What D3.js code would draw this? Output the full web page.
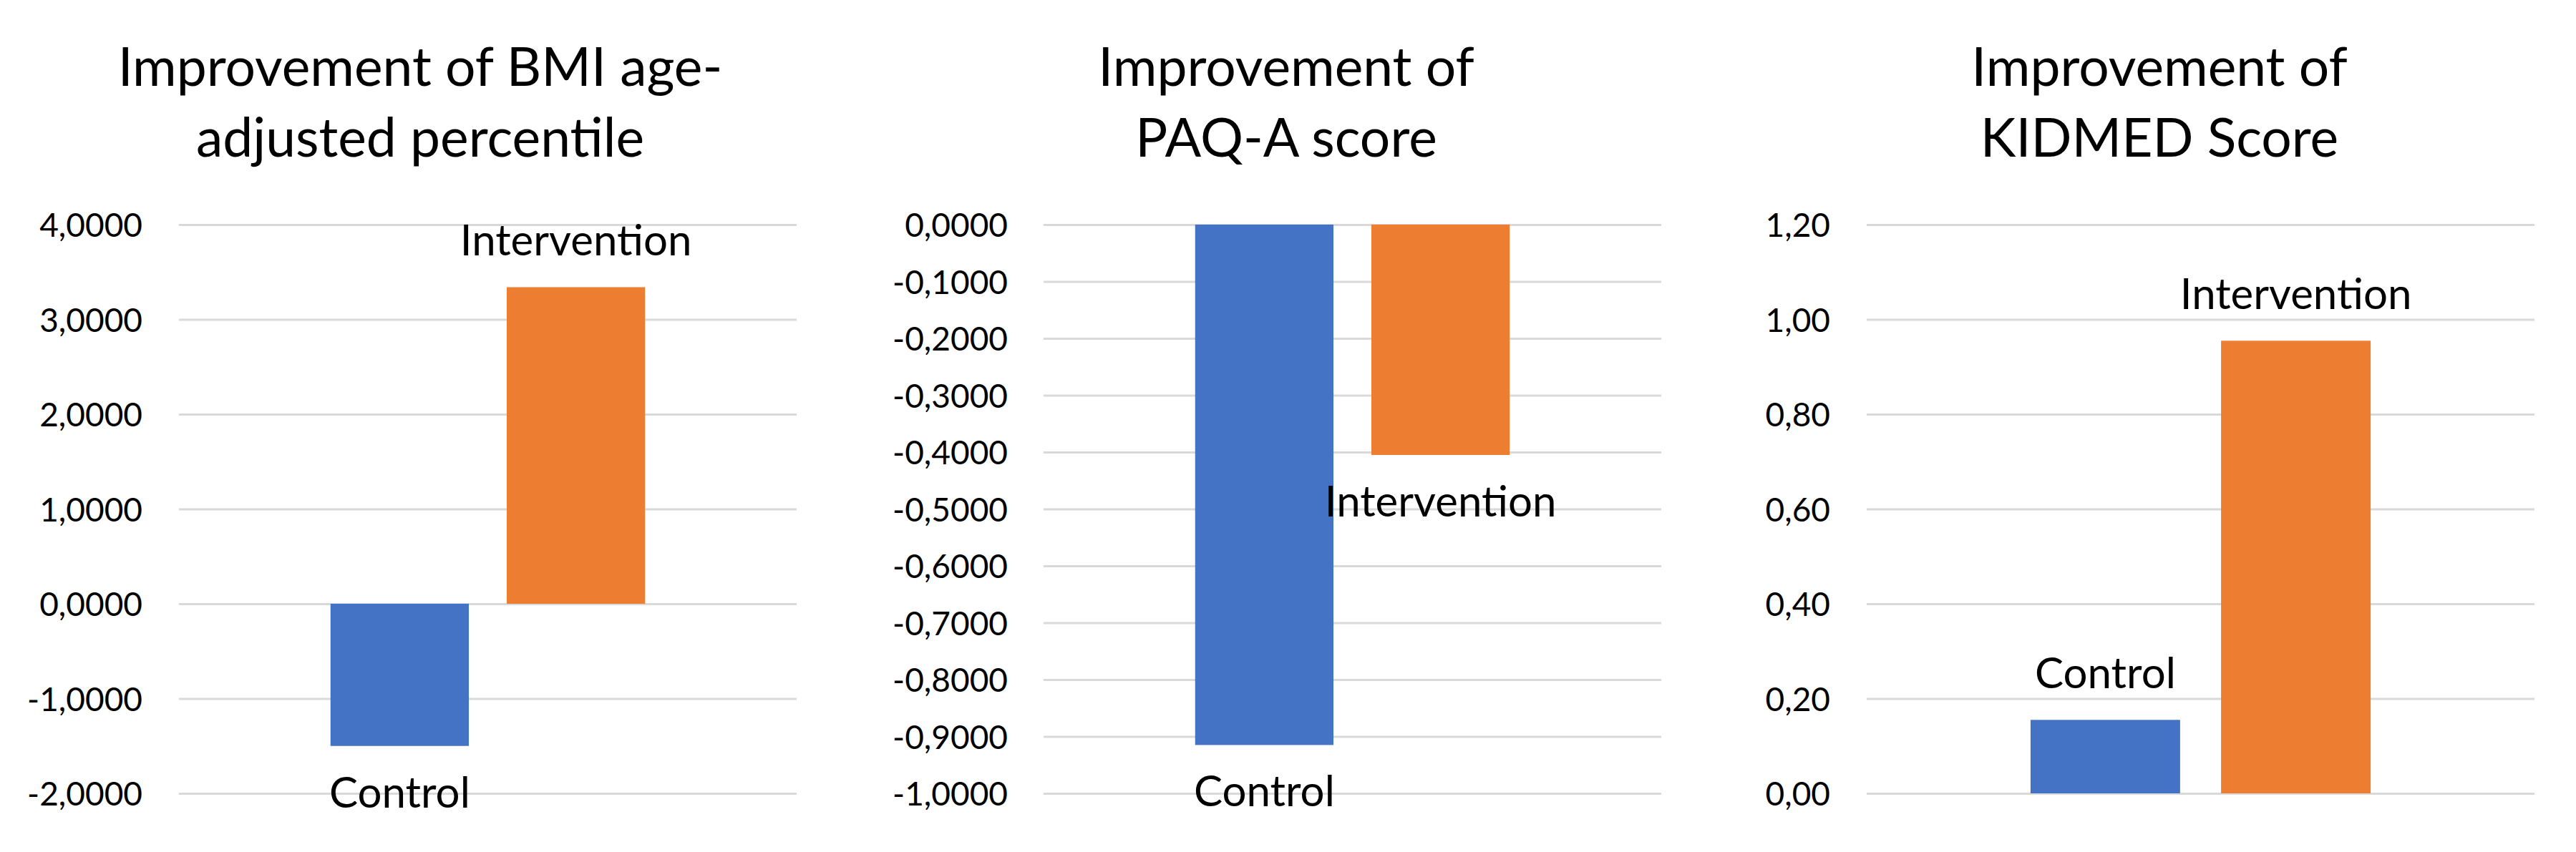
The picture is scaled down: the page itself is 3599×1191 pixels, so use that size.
<!DOCTYPE html>
<html>
<head>
<meta charset="utf-8">
<script src="https://cdn.jsdelivr.net/npm/d3@7"></script>
<style>
  html, body { margin: 0; padding: 0; background: #ffffff; }
  svg { display: block; }
  text { font-family: Lato, "Noto Sans", sans-serif; fill: #000; }
</style>
</head>
<body>
<script>
// ---- data ----
const categories = ["Control", "Intervention"];
const colors = ["#4472C4", "#ED7D31"];

const bmiTitle = ["Improvement of BMI age-", "adjusted percentile"];
const bmiValues = [-1.50, 3.34];
const bmiTicks = [-2, -1, 0, 1, 2, 3, 4];

const paqTitle = ["Improvement of", "PAQ-A score"];
const paqValues = [-0.915, -0.405];
const paqTicks = [-1.0, -0.9, -0.8, -0.7, -0.6, -0.5, -0.4, -0.3, -0.2, -0.1, 0];

const kidmedTitle = ["Improvement of", "KIDMED Score"];
const kidmedValues = [0.155, 0.955];
const kidmedTicks = [0, 0.2, 0.4, 0.6, 0.8, 1.0, 1.2];

// ---- layout ----
const W = 3599, H = 1191;
const locale = d3.formatLocale({decimal: ",", thousands: ".", grouping: [3], currency: ["", ""], minus: "-"});

const panels = [
  {title: bmiTitle, values: bmiValues, ticks: bmiTicks, fmt: locale.format(".4f"),
   titleX: 587, labelRight: 199, plotL: 250, plotR: 1113},
  {title: paqTitle, values: paqValues, ticks: paqTicks, fmt: locale.format(".4f"),
   titleX: 1797, labelRight: 1408, plotL: 1458, plotR: 2321},
  {title: kidmedTitle, values: kidmedValues, ticks: kidmedTicks, fmt: locale.format(".2f"),
   titleX: 3017, labelRight: 2557, plotL: 2608, plotR: 3541}
];

const plotTop = 314, plotBottom = 1109;

const svg = d3.select("body").append("svg")
  .attr("width", W).attr("height", H)
  .attr("viewBox", `0 0 ${W} ${H}`);
svg.append("rect").attr("width", W).attr("height", H).attr("fill", "#fff");

panels.forEach(p => {
  const g = svg.append("g");
  const y = d3.scaleLinear()
    .domain(d3.extent(p.ticks))
    .range([plotBottom, plotTop]);
  const x = d3.scaleBand()
    .domain(categories)
    .range([p.plotL, p.plotR])
    .paddingInner(0.215)
    .paddingOuter(0.86);

  // title
  const t = g.append("text")
    .attr("x", p.titleX)
    .attr("text-anchor", "middle")
    .style("font-size", "75px");
  p.title.forEach((line, i) => {
    t.append("tspan").attr("x", p.titleX).attr("y", 120 + i * 99).text(line);
  });

  // gridlines via axis
  const grid = g.append("g")
    .attr("transform", `translate(${p.plotL},0)`)
    .call(d3.axisRight(y).tickValues(p.ticks).tickSize(p.plotR - p.plotL).tickFormat(""));
  grid.select(".domain").remove();
  grid.selectAll("line").attr("stroke", "#d9d9d9").attr("stroke-width", 3);

  // y tick labels via axis
  const ax = g.append("g")
    .attr("transform", `translate(${p.labelRight},0)`)
    .call(d3.axisLeft(y).tickValues(p.ticks).tickSize(0).tickPadding(0).tickFormat(p.fmt));
  ax.select(".domain").remove();
  ax.selectAll("text")
    .attr("fill", "#000")
    .attr("dy", "0.36em")
    .style("font-family", "Lato, 'Noto Sans', sans-serif")
    .style("font-size", "46px");

  // bars
  const data = categories.map((c, i) => ({cat: c, v: p.values[i], color: colors[i]}));
  g.selectAll("rect.bar").data(data).enter().append("rect")
    .attr("class", "bar")
    .attr("x", d => x(d.cat))
    .attr("width", x.bandwidth())
    .attr("y", d => y(Math.max(0, d.v)))
    .attr("height", d => Math.abs(y(d.v) - y(0)))
    .attr("fill", d => d.color);

  // data labels (series names) at outside end
  g.selectAll("text.lbl").data(data).enter().append("text")
    .attr("class", "lbl")
    .attr("x", d => x(d.cat) + x.bandwidth() / 2)
    .attr("y", d => d.v >= 0 ? y(d.v) - 44 : y(d.v) + 86)
    .attr("text-anchor", "middle")
    .style("font-size", "60px")
    .text(d => d.cat);
});
</script>
</body>
</html>
